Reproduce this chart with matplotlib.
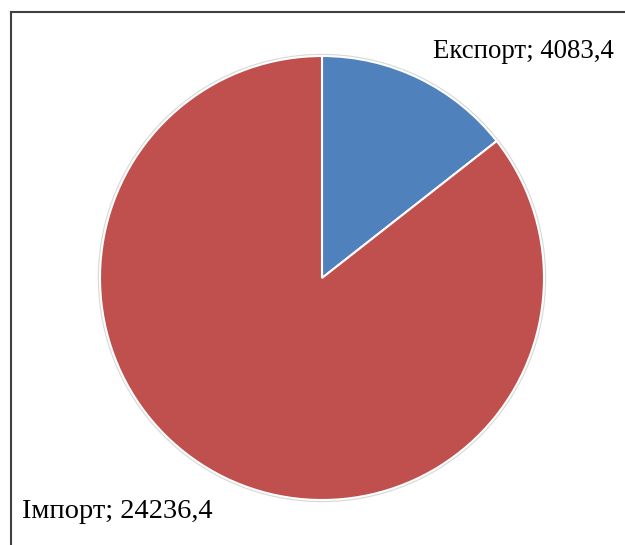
import matplotlib.pyplot as plt

# Data
labels = ['Експорт', 'Імпорт']
values = [4083.4, 24236.4]
colors = ['#4F81BD', '#C0504D']

plt.rcParams['font.family'] = ['Liberation Serif', 'DejaVu Serif']

fig = plt.figure(figsize=(6.25, 5.45), dpi=100)
ax = fig.add_axes([0, 0, 1, 1])

# soft shadow around the pie
shadow = plt.Circle((322, 267), 223.5, color='#d9d9d9', zorder=0)
ax.add_patch(shadow)

ax.pie(values, colors=colors, startangle=90, counterclock=False,
       center=(322, 267), radius=222, frame=True,
       wedgeprops=dict(edgecolor='white', linewidth=1.5))
ax.set_xlim(0, 625)
ax.set_ylim(0, 545)
ax.axis('off')

def fmt(v):
    return f'{v:.1f}'.replace('.', ',')

ax.text(433, 494, f'{labels[0]}; {fmt(values[0])}', fontsize=19.3,
        ha='left', va='center', color='black')
ax.text(22, 34, f'{labels[1]}; {fmt(values[1])}', fontsize=20.5,
        ha='left', va='center', color='black')

# frame lines (left and top)
ax.plot([11, 11], [0, 533], color='#404040', lw=1.5, clip_on=False)
ax.plot([11, 625], [533, 533], color='#404040', lw=1.5, clip_on=False)

fig.savefig('out.png', dpi=100)
